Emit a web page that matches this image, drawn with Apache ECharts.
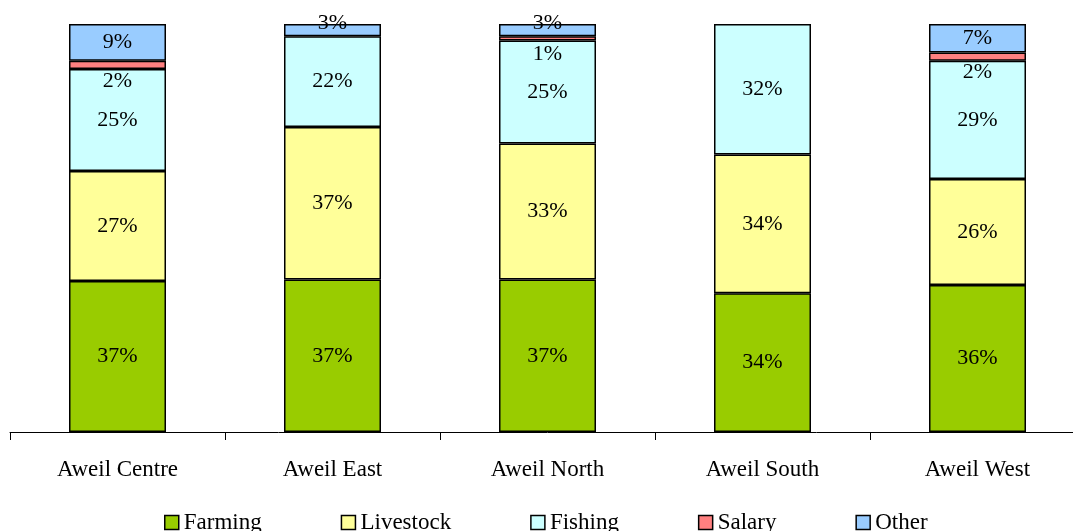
<!DOCTYPE html>
<html><head><meta charset="utf-8">
<script src="https://cdn.jsdelivr.net/npm/echarts@6/dist/echarts.min.js"></script>
<style>html,body{margin:0;padding:0;background:#fff;overflow:hidden;width:1073px;height:531px}#c{width:1085px;height:531px}</style>
</head><body><div id="c"></div>
<script>
const categories = ['Aweil Centre', 'Aweil East', 'Aweil North', 'Aweil South', 'Aweil West'];
const farming   = [37, 37, 37, 34, 36];
const livestock = [27, 37, 33, 34, 26];
const fishing   = [25, 22, 25, 32, 29];
const salary    = [2, 0, 1, 0, 2];
const other     = [9, 3, 3, 0, 7];
const seriesNames = ['Farming', 'Livestock', 'Fishing', 'Salary', 'Other'];
const colors = ['#99CC00', '#FFFF99', '#CCFFFF', '#FF8080', '#99CCFF'];

const raw = [farming, livestock, fishing, salary, other];
const totals = categories.map((_, i) => raw.reduce((s, a) => s + a[i], 0));

const font = '"Liberation Serif", "Times New Roman", serif';

function labelOffset(si, v) {
  if (si === 3) return [0, 16];
  if (si === 4 && v < 5) return [0, -7];
  return [0, 0];
}

const series = raw.map((arr, si) => ({
  name: seriesNames[si],
  type: 'bar',
  stack: 'all',
  barWidth: 97,
  itemStyle: { color: colors[si], borderColor: '#000', borderWidth: 1.5 },
  label: {
    show: true, position: 'inside', color: '#000',
    fontFamily: font, fontSize: 22,
    formatter: p => p.data.raw + '%'
  },
  data: arr.map((v, i) => v === 0 ? { value: '-', raw: 0 } : {
    value: v / totals[i] * 100,
    raw: v,
    label: { offset: labelOffset(si, v) }
  })
}));

const chart = echarts.init(document.getElementById('c'), null, { renderer: 'canvas' });
chart.setOption({
  animation: false,
  backgroundColor: '#fff',
  grid: { left: 10, right: 0, top: 24, bottom: 99, containLabel: false },
  legend: {
    data: seriesNames.map((n, i) => ({ name: n, itemStyle: { color: colors[i], borderColor: '#000', borderWidth: 1.5 } })),
    top: 506, left: 159, itemGap: 79, itemWidth: 14, itemHeight: 14,
    icon: 'rect',
    textStyle: { fontFamily: font, fontSize: 23, color: '#000' }
  },
  xAxis: {
    type: 'category', data: categories,
    axisLine: { lineStyle: { color: '#000', width: 1 } },
    axisTick: { show: true, length: 8, lineStyle: { color: '#000' } },
    axisLabel: { fontFamily: font, fontSize: 23, color: '#000', margin: 26, interval: 0 }
  },
  yAxis: {
    type: 'value', min: 0, max: 100, show: false, splitLine: { show: false }
  },
  series
});
</script>
</body></html>
